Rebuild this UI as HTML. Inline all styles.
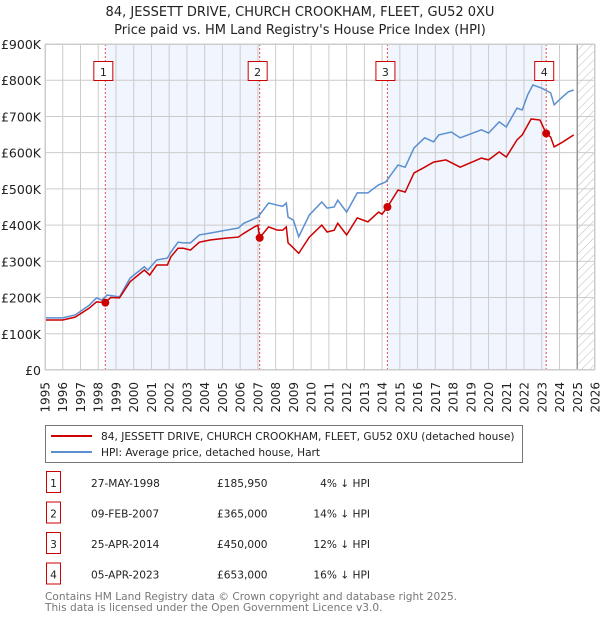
<!DOCTYPE html>
<html><head><meta charset="utf-8"><style>
body{margin:0;background:#fff;font-family:"DejaVu Sans","Liberation Sans",sans-serif}
svg{display:block}
text{font-family:"DejaVu Sans","Liberation Sans",sans-serif}
</style></head><body>
<svg id="chart" width="600" height="620" xmlns="http://www.w3.org/2000/svg">
<defs><pattern id="hatch" width="6" height="6" patternUnits="userSpaceOnUse" patternTransform="rotate(45)"><line x1="0" y1="0" x2="0" y2="6" stroke="#bbb" stroke-width="1"/></pattern></defs>
<text x="300" y="16" text-anchor="middle" font-size="13" fill="#222">84, JESSETT DRIVE, CHURCH CROOKHAM, FLEET, GU52 0XU</text>
<text x="300" y="34" text-anchor="middle" font-size="13" fill="#222">Price paid vs. HM Land Registry's House Price Index (HPI)</text>
<g id="plot"></g>
<g>
<rect x="45.5" y="425.5" width="477" height="37" fill="#fff" stroke="#777"/>
<line x1="51" y1="436" x2="92" y2="436" stroke="#cc0000" stroke-width="2"/>
<text x="101" y="440" font-size="10.6" fill="#222">84, JESSETT DRIVE, CHURCH CROOKHAM, FLEET, GU52 0XU (detached house)</text>
<line x1="51" y1="452" x2="92" y2="452" stroke="#5b8fd0" stroke-width="2"/>
<text x="101" y="456" font-size="10.6" fill="#222">HPI: Average price, detached house, Hart</text>
</g>
<g id="table" font-size="10.6" fill="#222"></g>
<text x="45" y="600" font-size="10.6" fill="#777">Contains HM Land Registry data © Crown copyright and database right 2025.</text>
<text x="45" y="611" font-size="10.6" fill="#777">This data is licensed under the Open Government Licence v3.0.</text>
</svg>
<script>
const hpiYears=[1995,1996,1996.7,1997.5,1997.9,1998.2,1998.5,1999.2,1999.8,2000.6,2000.8,2001.3,2001.9,2002.1,2002.5,2002.8,2003.2,2003.7,2004.3,2005.2,2005.9,2006.2,2007.0,2007.6,2008.1,2008.4,2008.6,2008.7,2009.0,2009.3,2009.9,2010.6,2010.9,2011.3,2011.5,2012.0,2012.6,2013.2,2013.8,2014.2,2014.9,2015.3,2015.8,2016.4,2016.9,2017.2,2017.9,2018.4,2019.6,2020.0,2020.6,2021.0,2021.6,2021.9,2022.2,2022.5,2023.0,2023.5,2023.7,2024.1,2024.5,2024.8];
const hpiValues=[144,144,152,179,199,193,207,202,254,285,276,304,309,326,353,351,351,373,378,386,392,405,422,461,455,452,461,422,414,368,428,464,447,450,469,436,489,489,511,519,566,560,613,641,630,649,657,641,663,654,685,671,723,718,759,787,778,765,732,751,768,773];
const propYears=[1995,1996,1996.7,1997.5,1997.9,1998.4,1998.7,1999.2,1999.8,2000.6,2000.9,2001.3,2001.9,2002.1,2002.5,2002.8,2003.2,2003.7,2004.3,2005.2,2005.9,2006.2,2006.8,2007.0,2007.1,2007.6,2008.1,2008.4,2008.6,2008.7,2009.0,2009.3,2009.9,2010.6,2010.9,2011.3,2011.5,2012.0,2012.6,2013.2,2013.8,2014.0,2014.3,2014.9,2015.3,2015.8,2016.4,2016.9,2017.6,2018.4,2019.6,2020.0,2020.6,2021.0,2021.6,2021.9,2022.4,2022.9,2023.25,2023.5,2023.7,2024.2,2024.8];
const propValues=[138,138,146,171,188,186,200,199,244,276,262,290,290,313,336,336,331,353,359,364,367,377,395,400,365,395,386,386,395,351,337,322,367,400,381,386,405,373,420,409,436,430,450,497,491,544,560,574,580,560,585,580,602,588,635,649,693,690,653,643,616,630,649];
const saleYears=[1998.4,2007.1,2014.3,2023.25];
const saleValues=[185.95,365,450,653];
const saleLabels=["1","2","3","4"];
const saleDates=["27-MAY-1998","09-FEB-2007","25-APR-2014","05-APR-2023"];
const salePrices=["£185,950","£365,000","£450,000","£653,000"];
const saleDiffs=["4% ↓ HPI","14% ↓ HPI","12% ↓ HPI","16% ↓ HPI"];
const yTicks=[0,100,200,300,400,500,600,700,800,900];
const yTickLabels=["£0","£100K","£200K","£300K","£400K","£500K","£600K","£700K","£800K","£900K"];
const xTicks=[1995,1996,1997,1998,1999,2000,2001,2002,2003,2004,2005,2006,2007,2008,2009,2010,2011,2012,2013,2014,2015,2016,2017,2018,2019,2020,2021,2022,2023,2024,2025,2026];

const X0=45,X1=595,Y0=370,Y1=44;
const xs=y=>X0+(y-1995)/(2026-1995)*(X1-X0);
const ys=v=>Y0-v/900*(Y0-Y1);
const NS="http://www.w3.org/2000/svg";
const plot=document.getElementById('plot');
function mk(tag,attrs,parent){const e=document.createElementNS(NS,tag);for(const k in attrs)e.setAttribute(k,attrs[k]);(parent||plot).appendChild(e);return e;}

let r=mk('rect',{x:X0,y:Y1,width:X1-X0,height:Y0-Y1,fill:'#fff'});


for(let i=0;i<saleYears.length;i+=2){
  let s=mk('rect',{x:xs(saleYears[i]),y:Y1,width:xs(saleYears[i+1])-xs(saleYears[i]),height:Y0-Y1,fill:'#eef3fc',opacity:0.8});
  
  
}
let h=mk('rect',{x:xs(2025),y:Y1,width:X1-xs(2025),height:Y0-Y1,fill:'url(#hatch)'});


yTicks.forEach((v,i)=>{
  let l=mk('line',{x1:X0,x2:X1,y1:ys(v),y2:ys(v),stroke:'#ccc','stroke-width':1});
  
  
  let t=mk('text',{x:X0-4,y:ys(v)+5,'text-anchor':'end','font-size':12.5,fill:'#222'});
  t.textContent=yTickLabels[i];
  
  
});
xTicks.forEach(y=>{
  let l=mk('line',{x1:xs(y),x2:xs(y),y1:Y1,y2:Y0,stroke:'#ccc','stroke-width':1});
  
  
  const tx=xs(y)+4.5,ty=Y0+12;
  let t=mk('text',{x:tx,y:ty,'text-anchor':'end','font-size':12,fill:'#222',transform:`rotate(-90 ${tx} ${ty})`});
  t.textContent=y;
  
  
});
let vl=mk('line',{x1:xs(2025),x2:xs(2025),y1:Y1,y2:Y0,stroke:'#999','stroke-width':1.5});


saleYears.forEach((y,i)=>{
  let l=mk('line',{x1:xs(y),x2:xs(y),y1:Y1,y2:Y0,stroke:'#e05050','stroke-width':1,'stroke-dasharray':'2,2'});
  
  
});
let hp=mk('polyline',{points:hpiYears.map((y,i)=>xs(y)+','+ys(hpiValues[i])).join(' '),fill:'none',stroke:'#5b8fd0','stroke-width':1.5});


let pp=mk('polyline',{points:propYears.map((y,i)=>xs(y)+','+ys(propValues[i])).join(' '),fill:'none',stroke:'#cc0000','stroke-width':1.5});


saleYears.forEach((y,i)=>{
  let c=mk('circle',{cx:xs(y),cy:ys(saleValues[i]),r:4,fill:'#cc0000'});
  
  
  let b=mk('rect',{x:xs(y)-11.5,y:61.5,width:19,height:19,fill:'#fff',stroke:'#cc0000'});
  
  
  let t=mk('text',{x:xs(y)-2,y:76,'text-anchor':'middle','font-size':11,fill:'#222'});
  t.textContent=saleLabels[i];
  
  
});
let br=mk('rect',{x:X0+.5,y:Y1+.5,width:X1-X0-1,height:Y0-Y1-1,fill:'none',stroke:'#ccc'});



const tbl=document.getElementById('table');
saleLabels.forEach((s,i)=>{
  const cy=483+i*30.5;
  let b=mk('rect',{x:46.5,y:cy-11.5,width:14,height:21,fill:'#fff',stroke:'#cc0000'},tbl);
  
  
  let t=mk('text',{x:53.5,y:cy+4,'text-anchor':'middle'},tbl);t.textContent=s;
  
  
  let d=mk('text',{x:91,y:cy+4},tbl);d.textContent=saleDates[i];
  
  
  let p=mk('text',{x:217,y:cy+4},tbl);p.textContent=salePrices[i];
  
  
  let q=mk('text',{x:370,y:cy+4,'text-anchor':'end'},tbl);q.textContent=saleDiffs[i];
  
  
});
</script>
</body></html>
